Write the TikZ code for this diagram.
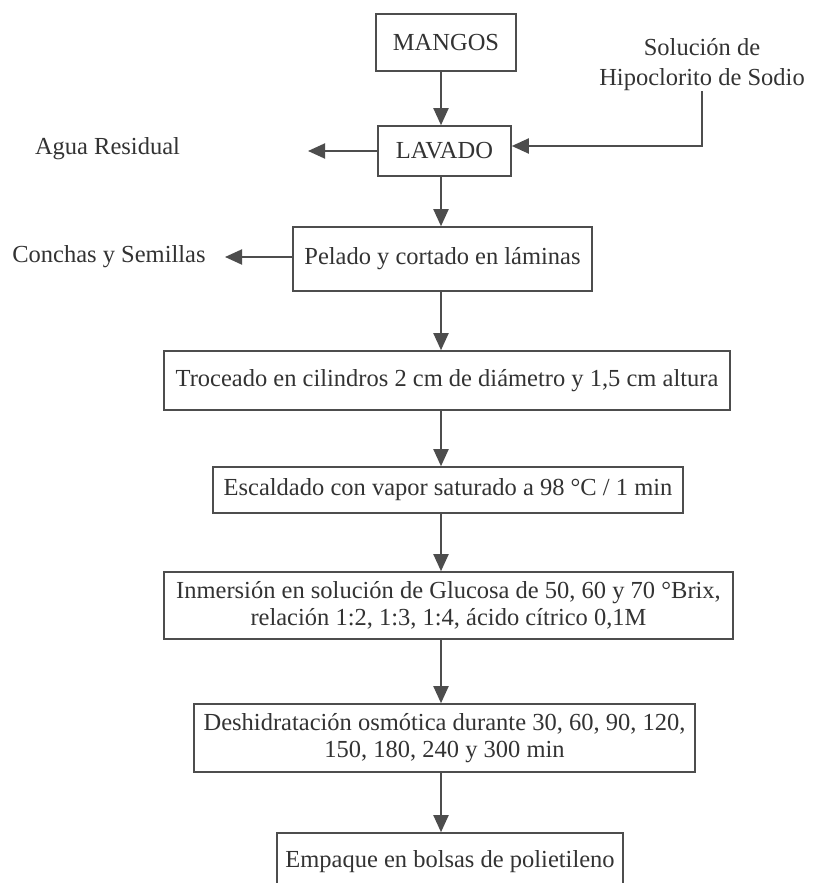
\documentclass[tikz,border=0pt]{standalone}
\usepackage{fontspec}
\setmainfont{Liberation Serif}
\usetikzlibrary{arrows.meta}
\definecolor{ink}{HTML}{333333}
\definecolor{linec}{HTML}{4D4D4D}
\begin{document}
\begin{tikzpicture}[x=1pt,y=-1pt,
  box/.style={draw=linec, line width=1.6pt, inner sep=0pt, text=ink, align=center,
    font=\fontsize{24.5}{27}\selectfont},
  lbl/.style={inner sep=0pt, text=ink, align=center, font=\fontsize{24.5}{30}\selectfont},
  arr/.style={draw=linec, line width=1.9pt, -{Triangle[length=17pt,width=15pt]}}]
\useasboundingbox (0,0) rectangle (816,883);
\clip (0,0) rectangle (816,883);
\fill[white] (0,0) rectangle (816,883);
\coordinate (ax) at (441,0);
% boxes
\node[box, minimum width=140pt, minimum height=57pt] (mangos) at (446,42.5) {MANGOS};
\node[box, minimum width=133pt, minimum height=50pt] (lavado) at (444.5,151) {LAVADO};
\node[box, minimum width=299pt, minimum height=64pt] (pelado) at (442.5,259) {Pelado y cortado en láminas};
\node[box, minimum width=566pt, minimum height=59pt] (troceado) at (447,380.5) {Troceado en cilindros 2 cm de diámetro y 1,5 cm altura};
\node[box, minimum width=470pt, minimum height=46pt] (escaldado) at (448,490) {Escaldado con vapor saturado a 98 °C / 1 min};
\node[box, minimum width=569pt, minimum height=67pt] (inmersion) at (448.5,605.5) {Inmersión en solución de Glucosa de 50, 60 y 70 °Brix,\\relación 1:2, 1:3, 1:4, ácido cítrico 0,1M};
\node[box, minimum width=501pt, minimum height=68pt] (deshid) at (444.5,738) {Deshidratación osmótica durante 30, 60, 90, 120,\\150, 180, 240 y 300 min};
\node[box, minimum width=346pt, minimum height=58pt] (empaque) at (450,862) {Empaque en bolsas de polietileno};
% side labels
\node[lbl] (agua) at (107.5,149) {Agua Residual};
\node[lbl] (conchas) at (109,257) {Conchas y Semillas};
\node[lbl] (sol) at (702,65) {Solución de\\Hipoclorito de Sodio};
\coordinate (aguatip) at (308,151);
\coordinate (conchastip) at (225,257);
\coordinate (solturn) at (702,146);
% main flow
\draw[arr] (mangos.south -| ax) -- (lavado.north -| ax);
\draw[arr] (lavado.south -| ax) -- (pelado.north -| ax);
\draw[arr] (pelado.south -| ax) -- (troceado.north -| ax);
\draw[arr] (troceado.south -| ax) -- (escaldado.north -| ax);
\draw[arr] (escaldado.south -| ax) -- (inmersion.north -| ax);
\draw[arr] (inmersion.south -| ax) -- (deshid.north -| ax);
\draw[arr] (deshid.south -| ax) -- (empaque.north -| ax);
% side flows
\draw[arr] (lavado.west) -- (aguatip);
\draw[arr] (pelado.west |- conchastip) -- (conchastip);
\draw[arr] (sol.south) -- (solturn) -- (lavado.east |- solturn);
\end{tikzpicture}
\end{document}
